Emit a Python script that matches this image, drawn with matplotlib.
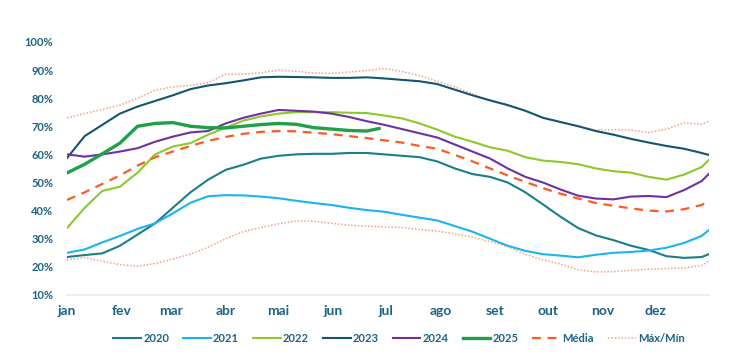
import numpy as np
import matplotlib
matplotlib.use("Agg")
import matplotlib.pyplot as plt

plt.rcParams['font.family'] = ['Lato', 'DejaVu Sans']

# day of year sample points
days = [1, 11, 21, 31, 41, 51, 61, 71, 81, 91, 101, 111, 121, 131, 141, 151, 161, 171,
        181, 191, 201, 211, 221, 231, 241, 251, 261, 271, 281, 291, 301, 311, 321, 331,
        341, 351, 361, 365]

v2020 = [23.5, 24.2, 24.8, 27.5, 31.5, 35.5, 41, 46.5, 51, 54.5, 56.3, 58.5, 59.5, 60, 60.2,
         60.2, 60.5, 60.5, 60, 59.5, 59, 57.5, 55, 53, 52, 50, 46.5, 42.2, 37.8, 33.8, 31.2,
         29.5, 27.5, 26, 23.8, 23.2, 23.5, 24.5]
v2021 = [25, 26.2, 28.7, 31, 33.5, 35.5, 39, 42.8, 45.1, 45.5, 45.4, 45, 44.4, 43.5, 42.7,
         42, 41, 40.2, 39.6, 38.5, 37.5, 36.5, 34.5, 32.5, 30, 27.5, 25.7, 24.5, 24, 23.4,
         24.3, 25, 25.3, 25.8, 26.8, 28.5, 31, 33]
v2022 = [33.8, 41, 47, 48.5, 53.5, 60, 62.8, 64, 67, 69.5, 72, 73.5, 74.5, 75, 75, 75, 74.8,
         74.7, 73.8, 72.8, 71, 68.8, 66.3, 64.5, 62.5, 61.3, 59, 57.8, 57.3, 56.5, 55, 54,
         53.5, 52, 51, 52.8, 55.5, 58]
v2023 = [58.7, 66.5, 70.5, 74.5, 77, 79, 81, 83.2, 84.5, 85.3, 86.3, 87.4, 87.6, 87.5, 87.4,
         87.2, 87.2, 87.4, 87, 86.5, 86, 85, 83, 81, 79.2, 77.5, 75.5, 73, 71.5, 70, 68.3,
         67, 65.5, 64.2, 63, 62, 60.5, 59.8]
v2024 = [60, 59.2, 60, 61, 62.2, 64.5, 66.3, 67.8, 68.3, 71, 73, 74.5, 75.8, 75.5, 75.2,
         74.5, 73.3, 71.8, 70.5, 69, 67.5, 66, 63.5, 61, 58.5, 55, 52, 50, 47.5, 45.3, 44.3,
         44, 45, 45.2, 44.8, 47.3, 50.5, 53]
days2025 = days[:18] + [178]
v2025 = [53.4, 56.5, 60.2, 64, 70, 71, 71.3, 70, 69.5, 69.4, 70, 70.6, 71, 70.7, 69.5, 69,
         68.5, 68.3, 69.2]
media = [43.8, 46.5, 49.5, 52.5, 56, 59, 61, 63, 64.8, 66.2, 67.3, 68, 68.3, 68.2, 67.7,
         67.2, 66.5, 65.8, 65, 64.2, 63, 62, 59.8, 57.5, 55, 52.5, 50.2, 48, 46, 44.3, 42.7,
         41.7, 40.8, 40, 39.7, 40.5, 42, 43.4]
vmax = [73, 74.5, 76, 77.5, 80, 82.8, 84, 84.5, 85.5, 88.5, 88.5, 89, 90, 89.5, 89, 88.8,
        89.3, 89.8, 90.5, 89.5, 88, 86, 84, 81.5, 79.2, 77.8, 75.5, 73, 71.5, 70, 68.6,
        68.8, 68.6, 67.8, 69, 71.2, 70.7, 71.7]
vmin = [22.5, 23.3, 22, 20.8, 20.2, 21.2, 22.8, 24.5, 27, 30, 32.5, 34, 35.3, 36.3, 36.2,
        35.5, 34.8, 34.5, 34.2, 34, 33.3, 32.7, 31.8, 30.5, 29, 27.2, 24.5, 22.5, 21, 19,
        18.2, 18.3, 18.8, 19.2, 19.4, 19.6, 20.5, 22]

months = ['jan', 'fev', 'mar', 'abr', 'mai', 'jun', 'jul', 'ago', 'set', 'out', 'nov', 'dez']
month_start = [1, 32, 60, 91, 121, 152, 182, 213, 244, 274, 305, 335]
yticks = [10, 20, 30, 40, 50, 60, 70, 80, 90, 100]

txt = '#1d6283'

fig = plt.figure(figsize=(7.54, 3.58), dpi=100)
ax = fig.add_axes([0.0889, 0.176, 0.851, 0.707])

ax.plot(days, vmax, color='#f5a08c', lw=1.1, ls=(0, (1, 1.2)), label='Máx/Mín')
ax.plot(days, vmin, color='#f5a08c', lw=1.1, ls=(0, (1, 1.2)))
ax.plot(days, v2020, color='#1b7e88', lw=1.5, label='2020')
ax.plot(days, v2021, color='#1cb4ee', lw=1.5, label='2021')
ax.plot(days, v2022, color='#8cc92a', lw=1.5, label='2022')
ax.plot(days, v2023, color='#125572', lw=1.5, label='2023')
ax.plot(days, v2024, color='#7030a0', lw=1.5, label='2024')
ax.plot(days2025, v2025, color='#21a04a', lw=2.4, label='2025')
ax.plot(days, media, color='#ff5a22', lw=1.6, ls=(0, (4, 3)), label='Média')

ax.set_xlim(1, 365)
ax.set_ylim(10, 100)
ax.set_xticks(month_start)
ax.set_xticklabels(months)
ax.set_yticks(yticks)
ax.set_yticklabels([f'{t}%' for t in yticks])
for s in ['top', 'right', 'left']:
    ax.spines[s].set_visible(False)
ax.spines['bottom'].set_color('#e6e9ec')
ax.spines['bottom'].set_linewidth(1.2)
ax.tick_params(length=0)
ax.tick_params(axis='x', pad=7, labelsize=10, labelcolor=txt)
ax.tick_params(axis='y', pad=10, labelsize=8, labelcolor=txt)
for lab in ax.get_xticklabels() + ax.get_yticklabels():
    lab.set_fontweight('bold')

h, l = ax.get_legend_handles_labels()
order = ['2020', '2021', '2022', '2023', '2024', '2025', 'Média', 'Máx/Mín']
hh = [h[l.index(o)] for o in order]
leg = fig.legend(hh, order, loc='center', bbox_to_anchor=(0.529, 0.055), ncol=8,
                 frameon=False, fontsize=8, handlelength=2.5, handletextpad=0.2,
                 columnspacing=1.25)
for t in leg.get_texts():
    t.set_color(txt)
    t.set_fontweight('bold')

fig.savefig('out.png', dpi=100)
